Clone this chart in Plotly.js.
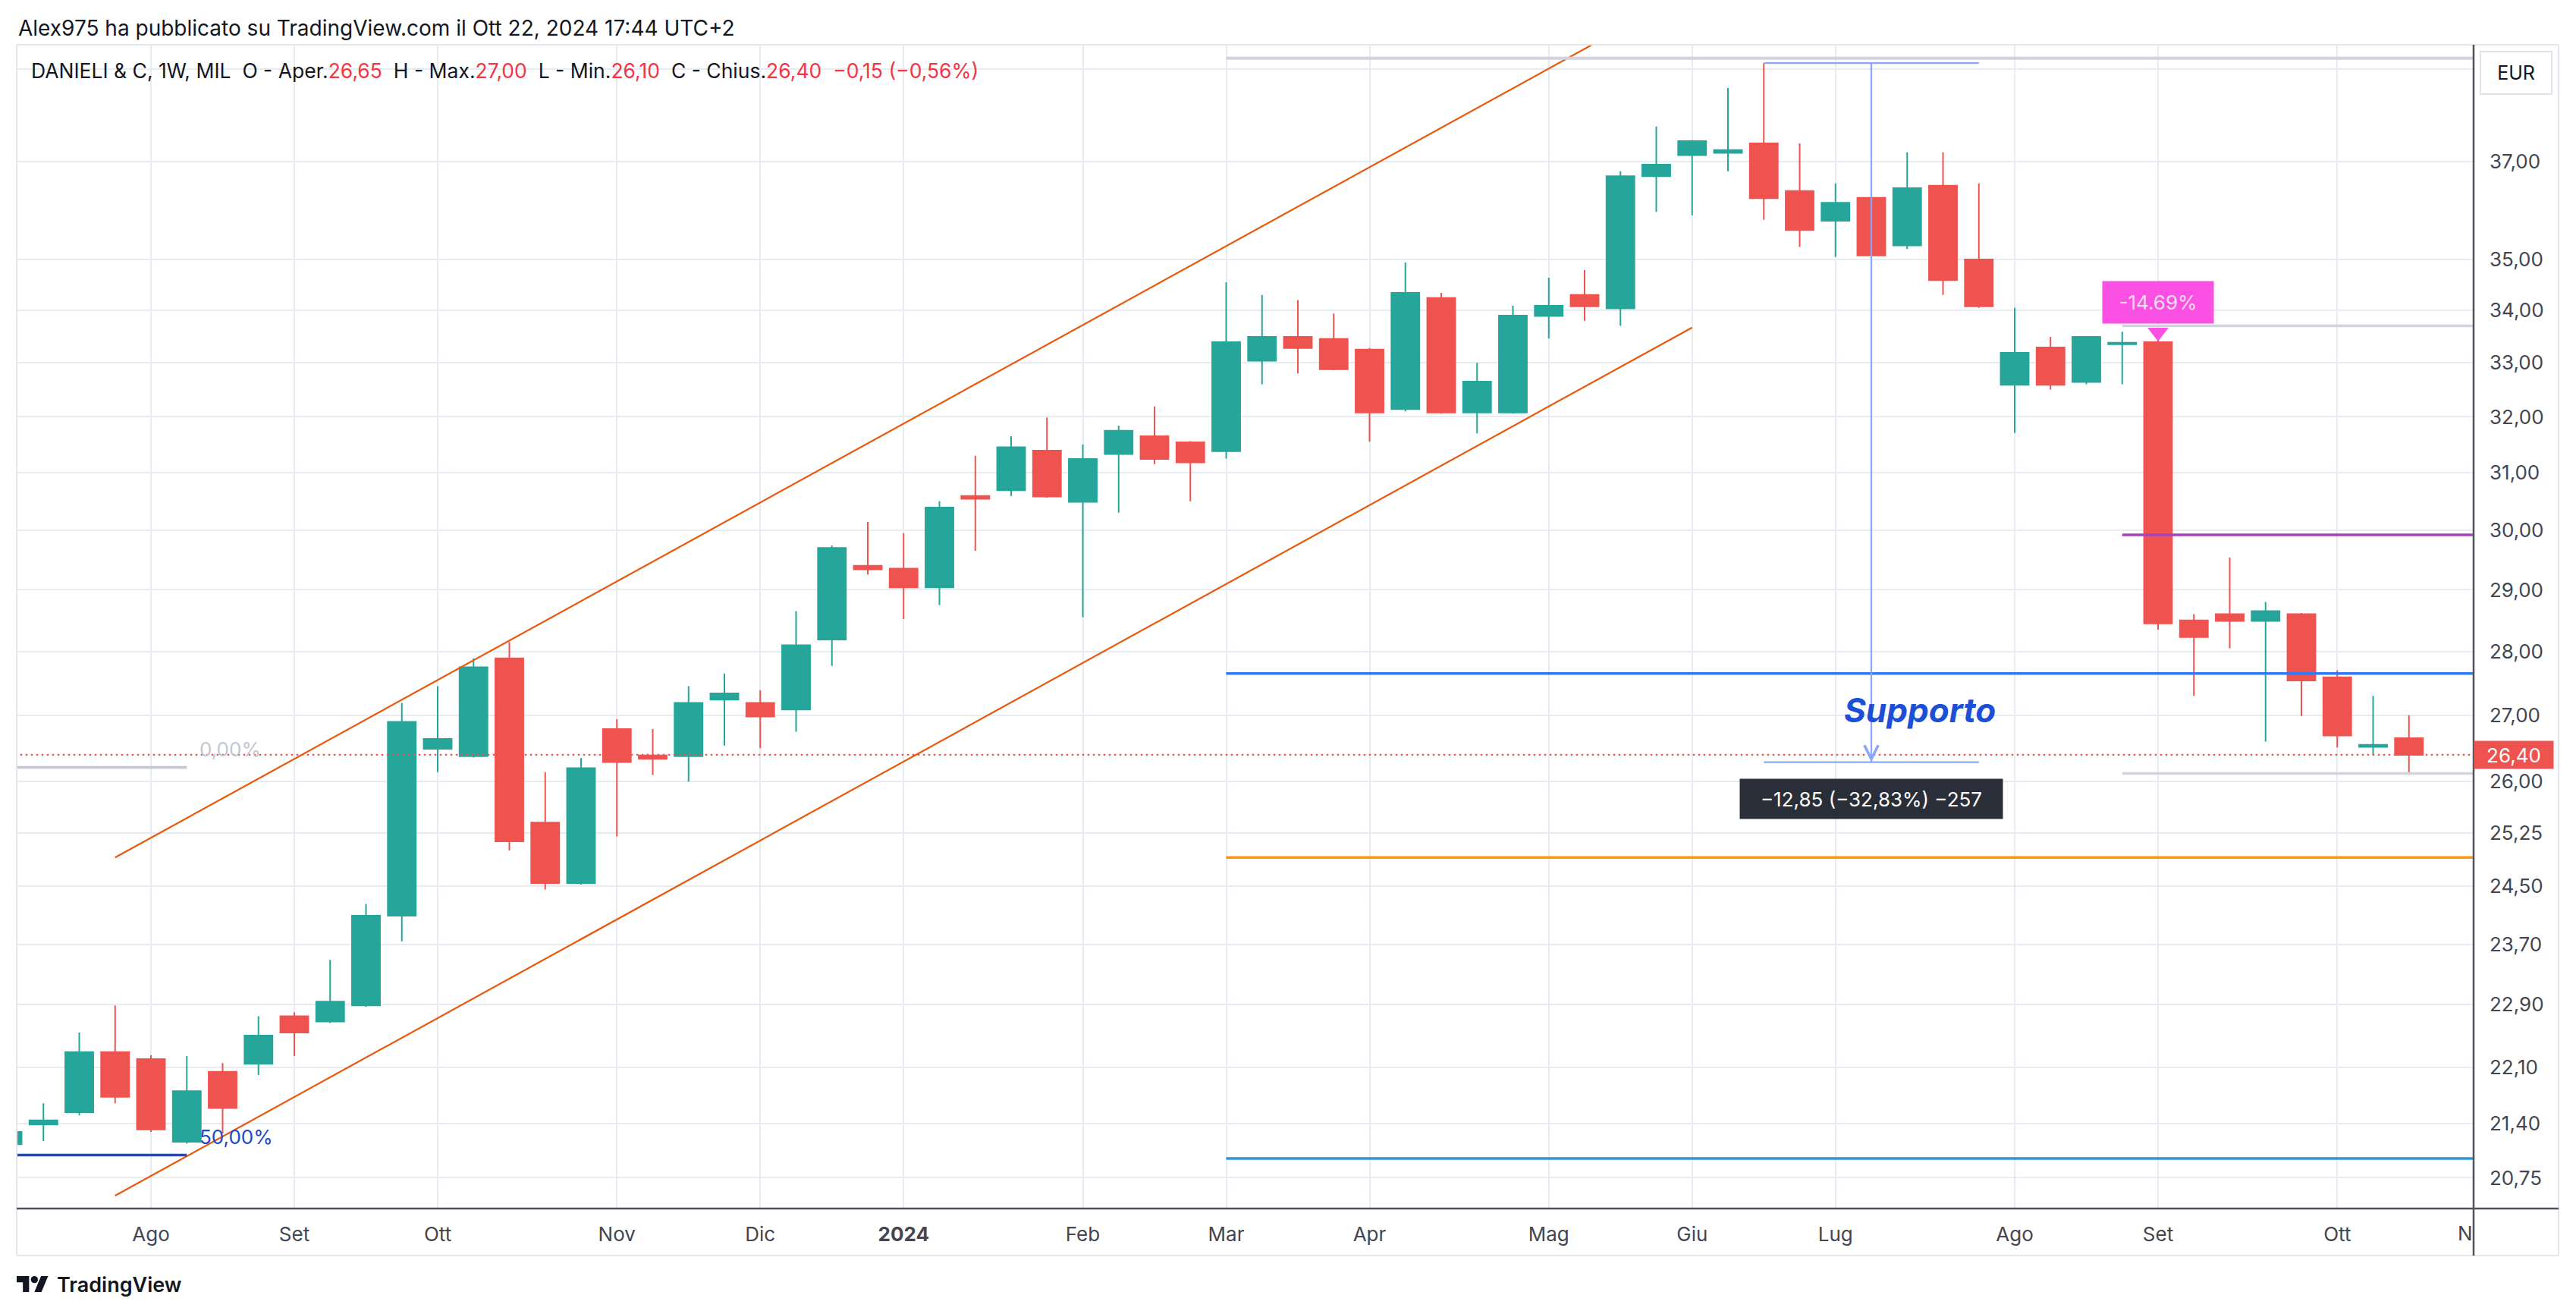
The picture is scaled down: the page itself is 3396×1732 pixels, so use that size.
<!DOCTYPE html>
<html>
<head>
<meta charset="utf-8">
<script src="https://cdn.plot.ly/plotly-3.0.1.min.js"></script>
<style>html,body{margin:0;padding:0;background:#fff;}#chart{width:3396px;height:1732px;}</style>
</head>
<body>
<div id="chart"></div>
<script>
// ---------------- DATA ----------------
const weekDates = ['2023-07-10','2023-07-17','2023-07-24','2023-07-31','2023-08-07','2023-08-14','2023-08-21','2023-08-28',
'2023-09-04','2023-09-11','2023-09-18','2023-09-25','2023-10-02','2023-10-09','2023-10-16','2023-10-23','2023-10-30',
'2023-11-06','2023-11-13','2023-11-20','2023-11-27','2023-12-04','2023-12-11','2023-12-18','2023-12-25',
'2024-01-01','2024-01-08','2024-01-15','2024-01-22','2024-01-29','2024-02-05','2024-02-12','2024-02-19','2024-02-26',
'2024-03-04','2024-03-11','2024-03-18','2024-03-25','2024-04-01','2024-04-08','2024-04-15','2024-04-22','2024-04-29',
'2024-05-06','2024-05-13','2024-05-20','2024-05-27','2024-06-03','2024-06-10','2024-06-17','2024-06-24',
'2024-07-01','2024-07-08','2024-07-15','2024-07-22','2024-07-29','2024-08-05','2024-08-12','2024-08-19','2024-08-26',
'2024-09-02','2024-09-09','2024-09-16','2024-09-23','2024-09-30','2024-10-07','2024-10-14','2024-10-21'];

const openP  = [21.15,21.39,21.54,22.29,22.20,21.18,22.04,22.14,22.75,22.68,22.89,24.09,26.49,26.38,27.89,25.40,24.54,
26.79,26.39,26.38,27.24,27.19,27.09,28.19,29.40,29.35,29.04,30.59,30.69,31.39,30.49,31.33,31.65,31.54,
31.38,33.04,33.49,33.45,33.25,32.14,34.24,32.08,32.08,33.89,34.30,34.04,36.70,37.14,37.19,37.39,36.39,
35.78,36.25,35.28,36.50,35.00,32.59,33.29,32.64,33.35,33.39,28.50,28.60,28.49,28.60,27.59,26.52,26.65];
const highP  = [21.35,21.65,22.54,22.89,22.25,22.24,22.15,22.75,22.80,23.49,24.25,27.19,27.45,27.89,28.15,26.14,26.35,
26.94,26.79,27.45,27.65,27.39,28.65,29.74,30.14,29.95,30.50,31.30,31.65,31.99,31.50,31.84,32.19,31.56,
34.55,34.30,34.20,33.94,33.28,34.94,34.34,33.00,34.09,34.64,34.79,36.80,37.75,37.46,38.59,39.14,37.39,
36.55,36.39,37.20,37.20,36.55,34.05,33.49,33.49,33.59,33.49,28.60,29.54,28.80,28.62,27.70,27.30,27.00];
const lowP   = [21.10,21.19,21.50,21.65,21.30,21.16,21.28,22.00,22.24,22.66,22.87,23.74,26.14,26.36,25.00,24.45,24.52,
25.20,26.10,26.00,26.54,26.50,26.75,27.77,29.25,28.52,28.75,29.65,30.59,30.56,28.55,30.30,31.15,30.50,
31.25,32.60,32.80,32.86,31.55,32.10,32.06,31.70,32.06,33.46,33.80,33.70,35.96,35.89,36.80,35.80,35.25,
35.05,34.30,35.21,34.30,34.05,31.71,32.50,32.60,32.60,28.35,27.30,28.05,26.60,26.99,26.51,26.39,26.10];
const closeP = [21.30,21.44,22.29,21.73,21.33,21.80,21.59,22.50,22.54,22.94,24.09,26.90,26.64,27.75,25.13,24.54,26.20,
26.29,26.34,27.19,27.34,26.98,28.10,29.70,29.34,29.04,30.39,30.54,31.45,30.58,31.24,31.75,31.24,31.18,
33.39,33.49,33.28,32.88,32.08,34.34,32.08,32.65,33.90,34.09,34.08,36.70,36.94,37.44,37.25,36.24,35.59,
36.15,35.08,36.45,34.59,34.08,33.19,32.59,33.49,33.38,28.45,28.23,28.49,28.65,27.54,26.69,26.55,26.40];

// x-axis month ticks (first weekly bar of each month)
const monthTickDates = ['2023-08-07','2023-09-04','2023-10-02','2023-11-06','2023-12-04','2024-01-01','2024-02-05',
'2024-03-04','2024-04-01','2024-05-06','2024-06-03','2024-07-01','2024-08-05','2024-09-02','2024-10-07'];
const monthLabels = ['Ago','Set','Ott','Nov','Dic','<b>2024</b>','Feb','Mar','Apr','Mag','Giu','Lug','Ago','Set','Ott'];

// y-axis (log) ticks
const priceTicks = [20.75,21.40,22.10,22.90,23.70,24.50,25.25,26.00,27.00,28.00,29.00,30.00,31.00,32.00,33.00,34.00,35.00,37.00,39.00];
const priceTickText = ['20,75','21,40','22,10','22,90','23,70','24,50','25,25','26,00','27,00','28,00','29,00','30,00','31,00','32,00','33,00','34,00','35,00','37,00',''];

// drawings (date, price)
const channelUpperX = ['2023-07-31','2024-06-03'], channelUpperY = [24.90, 40.81];
const channelLowerX = ['2023-07-31','2024-06-03'], channelLowerY = [20.54, 33.67];
const levelStart = ['2024-03-04','2024-03-04','2024-03-04','2024-03-04','2024-08-26','2024-08-26','2024-08-26'];
const levelPrice = [39.25, 27.65, 24.90, 20.98, 29.92, 33.70, 26.12];
const levelColor = ['#d1d4dc','#3179f2','#ff9800','#2e96cf','#a544b8','#d1d4dc','#d1d4dc'];
const fibPrice = [26.21, 21.02];
const fibLabel = ['0,00%','50,00%'];
const fibColor = ['#c3c7d2','#1c48cc'];
const fibEnd = '2023-08-14';
const measureX = ['2024-06-17','2024-07-08','2024-07-29'];
const measurePrice = [39.14, 26.29];
const measureText = '−12,85 (−32,83%) −257';
const lastPrice = 26.40;
const pctLabelDate = '2024-09-02', pctLabelPrice = 34.16, pctMarkerPrice = 33.58, pctText = '-14.69%';
const supportText = 'Supporto', supportDate = '2024-07-17 12:00', supportPrice = 27.08;

// ---------------- LAYOUT GEOMETRY ----------------
const FW = 3396, FH = 1732;
const PL = 22, PR = 3261, PT = 59, PB = 1593;
const px2x = p => (p - PL) / (PR - PL);
const px2y = p => (PB - p) / (PB - PT);
const t0 = Date.UTC(2023, 7, 7), weekMs = 7 * 86400000;
const xRange = [t0 - 3.746 * weekMs, t0 + 64.804 * weekMs];
const yRange = [Math.log10(20.39), Math.log10(39.55)];
const farLeft = '2023-06-01', farRight = '2024-12-31';
const FONT = 'Inter, "Noto Sans", sans-serif';
const UP = '#26a69a', DOWN = '#ef5350';

const fmt = v => v.toFixed(2).replace('.', ',').replace('-', '−');

const traces = [];
traces.push({
  type: 'candlestick', x: weekDates, open: openP, high: highP, low: lowP, close: closeP,
  increasing: {line: {color: UP, width: 2}, fillcolor: UP},
  decreasing: {line: {color: DOWN, width: 2}, fillcolor: DOWN},
  hoverinfo: 'skip', showlegend: false
});
function seg(x, y, color, width, dash) {
  traces.push({type: 'scatter', mode: 'lines', x: x, y: y, hoverinfo: 'skip', showlegend: false,
    line: {color: color, width: width, dash: dash || 'solid'}});
}
// current price dotted line
seg([farLeft, farRight], [lastPrice, lastPrice], '#ef5350', 2.2, '2.5px,4.5px');
// channel
seg(channelUpperX, channelUpperY, '#e8590c', 2.2);
seg(channelLowerX, channelLowerY, '#e8590c', 2.2);
// horizontal levels
for (let i = 0; i < levelPrice.length; i++) {
  seg([levelStart[i], farRight], [levelPrice[i], levelPrice[i]], levelColor[i], i === 0 ? 4 : 3.5);
}
// fib lines
for (let i = 0; i < fibPrice.length; i++) {
  seg([farLeft, fibEnd], [fibPrice[i], fibPrice[i]], fibColor[i], 3.5);
}
// measurement tool
seg([measureX[0], measureX[2]], [measurePrice[0], measurePrice[0]], '#8aa6f7', 2.2);
seg([measureX[0], measureX[2]], [measurePrice[1], measurePrice[1]], '#8aa6f7', 2.2);
seg([measureX[1], measureX[1]], [measurePrice[0], measurePrice[1]], '#8aa6f7', 2.2);
// pink marker triangle
traces.push({type: 'scatter', mode: 'markers', x: [pctLabelDate], y: [pctMarkerPrice], hoverinfo: 'skip', showlegend: false,
  marker: {symbol: 'triangle-down', size: 24, color: '#fb50e4'}});

// ---------------- ANNOTATIONS ----------------
const n = closeP.length;
const chg = closeP[n-1] - closeP[n-2];
const pct = chg / closeP[n-2] * 100;
const red = s => '<span style="color:#f23645">' + s + '</span>';
const sp = '\u00a0\u00a0';
const legendText = 'DANIELI & C, 1W, MIL' + sp + 'O - Aper.' + red(fmt(openP[n-1])) + sp + 'H - Max.' + red(fmt(highP[n-1])) +
  sp + 'L - Min.' + red(fmt(lowP[n-1])) + sp + 'C - Chius.' + red(fmt(closeP[n-1])) + sp +
  red(fmt(chg) + ' (' + fmt(pct) + '%)');

const annotations = [
  {xref: 'paper', yref: 'paper', x: px2x(22), y: px2y(37), xanchor: 'left', yanchor: 'middle', showarrow: false,
   text: 'Alex975 ha pubblicato su TradingView.com il Ott 22, 2024 17:44 UTC+2', font: {family: FONT, size: 28, color: '#131722'}},
  {xref: 'paper', yref: 'paper', x: px2x(39), y: px2y(93), xanchor: 'left', yanchor: 'middle', showarrow: false,
   text: legendText, font: {family: FONT, size: 26.5, color: '#131722'}},
  {xref: 'paper', yref: 'paper', x: px2x(3317), y: px2y(96), xanchor: 'center', yanchor: 'middle', showarrow: false,
   text: 'EUR', font: {family: FONT, size: 25, color: '#131722'}, bgcolor: '#ffffff', bordercolor: '#e0e3eb', borderwidth: 2,
   width: 88, height: 50, borderpad: 2},
  {xref: 'paper', yref: 'y', x: px2x(3314), y: Math.log10(lastPrice), xanchor: 'center', yanchor: 'middle', showarrow: false,
   text: fmt(lastPrice), font: {family: FONT, size: 26, color: '#ffffff'}, bgcolor: '#ef5350', width: 100, height: 32, borderpad: 2},
  {xref: 'paper', yref: 'paper', x: px2x(3262), y: px2y(1626), xanchor: 'right', yanchor: 'middle', showarrow: false,
   text: 'N', font: {family: FONT, size: 26, color: '#434651'}},
  {xref: 'paper', yref: 'paper', x: px2x(73), y: px2y(1693), xanchor: 'left', yanchor: 'middle', showarrow: false,
   text: 'TradingView', font: {family: FONT, size: 27, color: '#131722', weight: 600}},
  {xref: 'x', yref: 'y', x: supportDate, y: Math.log10(supportPrice), xanchor: 'center', yanchor: 'middle', showarrow: false,
   text: supportText, font: {family: FONT, size: 44, color: '#1c4fd6', weight: 700, style: 'italic'}},
  {xref: 'x', yref: 'y', x: measureX[1], y: Math.log10(25.75), xanchor: 'center', yanchor: 'middle', showarrow: false,
   text: measureText, font: {family: FONT, size: 26, color: '#ffffff'}, bgcolor: '#2a2e39', width: 342, height: 48, borderpad: 2},
  {xref: 'x', yref: 'y', x: measureX[1], y: Math.log10(measurePrice[1]), showarrow: true, text: '', ax: 0, ay: -40,
   arrowhead: 5, arrowsize: 1.8, arrowwidth: 2, arrowcolor: '#8aa6f7'},
  {xref: 'x', yref: 'y', x: pctLabelDate, y: Math.log10(pctLabelPrice), xanchor: 'center', yanchor: 'middle', showarrow: false,
   text: pctText, font: {family: FONT, size: 26, color: '#f6dcf2'}, bgcolor: '#fb50e4', width: 142, height: 51, borderpad: 2}
];
for (let i = 0; i < fibPrice.length; i++) {
  annotations.push({xref: 'x', yref: 'y', x: fibEnd, y: Math.log10(fibPrice[i]), xanchor: 'left', yanchor: 'middle',
    xshift: 15, yshift: 24, showarrow: false, text: fibLabel[i], font: {family: FONT, size: 26, color: fibColor[i]}});
}

// ---------------- SHAPES (frame, axis lines, logo) ----------------
const shapes = [];
function pline(x0, y0, x1, y1, color, width) {
  shapes.push({type: 'line', xref: 'paper', yref: 'paper', x0: px2x(x0), y0: px2y(y0), x1: px2x(x1), y1: px2y(y1),
    line: {color: color, width: width}, layer: 'above'});
}
const frameC = '#e3e6ec';
pline(22, 59, 3373, 59, frameC, 2);
pline(22, 59, 22, 1655, frameC, 2);
pline(3373, 59, 3373, 1655, frameC, 2);
pline(22, 1655, 3373, 1655, frameC, 2);
pline(22, 1593, 3373, 1593, '#50535e', 2.5);
pline(3261, 59, 3261, 1655, '#50535e', 2.5);
// TradingView logo (36x28 viewbox mapped to pixels)
const ls = 1.167, lx = 22, ly = 1677.3;
function ppath(pts) {
  return 'M' + pts.map(p => px2x(lx + p[0]*ls) + ',' + px2y(ly + p[1]*ls)).join('L') + 'Z';
}
shapes.push({type: 'path', xref: 'paper', yref: 'paper', path: ppath([[0,4],[14,4],[14,22],[7,22],[7,11],[0,11]]),
  fillcolor: '#131722', line: {width: 0}, layer: 'above'});
shapes.push({type: 'path', xref: 'paper', yref: 'paper', path: ppath([[20,22],[28,22],[35.5,4],[27.5,4]]),
  fillcolor: '#131722', line: {width: 0}, layer: 'above'});
shapes.push({type: 'circle', xref: 'paper', yref: 'paper', x0: px2x(lx + 16*ls), x1: px2x(lx + 24*ls),
  y0: px2y(ly + 4*ls), y1: px2y(ly + 12*ls), fillcolor: '#131722', line: {width: 0}, layer: 'above'});

const layout = {
  width: FW, height: FH,
  margin: {l: PL, r: FW - PR, t: PT, b: FH - PB, pad: 0},
  paper_bgcolor: '#ffffff', plot_bgcolor: '#ffffff',
  showlegend: false,
  boxgap: 0.22, boxgroupgap: 0,
  xaxis: {
    type: 'date', range: xRange, tickmode: 'array', tickvals: monthTickDates, ticktext: monthLabels,
    showgrid: true, gridcolor: '#e6ecf2', gridwidth: 2, zeroline: false, showline: false, ticks: '',
    ticklabelstandoff: 16, tickfont: {family: FONT, size: 26, color: '#434651'},
    rangeslider: {visible: false}, fixedrange: true
  },
  yaxis: {
    type: 'log', side: 'right', range: yRange, tickmode: 'array', tickvals: priceTicks, ticktext: priceTickText,
    showgrid: true, gridcolor: '#e6ecf2', gridwidth: 2, zeroline: false, showline: false, ticks: '',
    ticklabelstandoff: 20, tickfont: {family: FONT, size: 26, color: '#434651'}, fixedrange: true
  },
  annotations: annotations,
  shapes: shapes
};

Plotly.newPlot('chart', traces, layout, {staticPlot: true, displayModeBar: false});
</script>
</body>
</html>
